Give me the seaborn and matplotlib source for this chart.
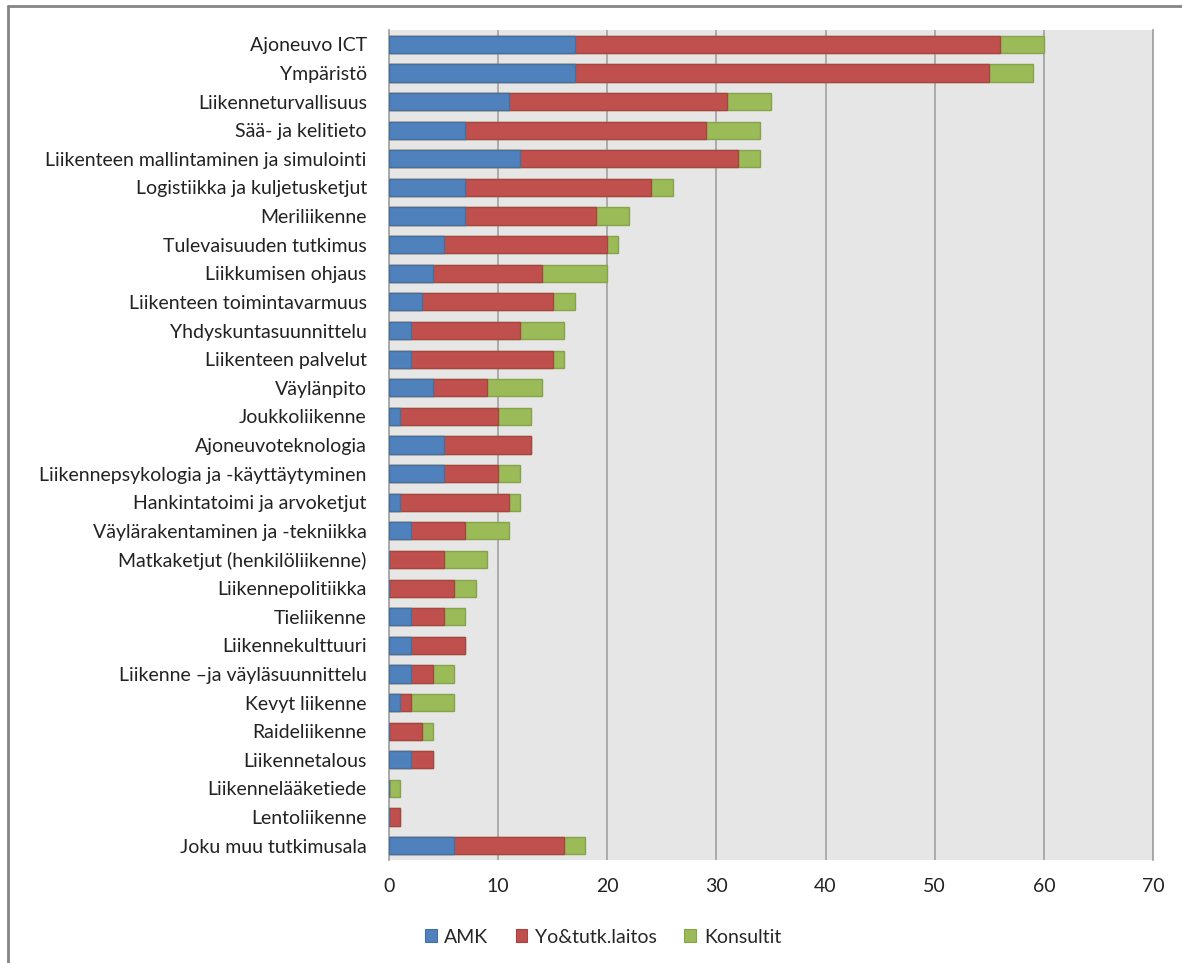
import matplotlib
matplotlib.use("Agg")
import matplotlib.pyplot as plt
from matplotlib.lines import Line2D
from matplotlib.patches import Patch
import numpy as np
import pandas as pd
import seaborn as sns

categories = [
    "Ajoneuvo ICT", "Ympäristö", "Liikenneturvallisuus", "Sää- ja kelitieto",
    "Liikenteen mallintaminen ja simulointi", "Logistiikka ja kuljetusketjut",
    "Meriliikenne", "Tulevaisuuden tutkimus", "Liikkumisen ohjaus",
    "Liikenteen toimintavarmuus", "Yhdyskuntasuunnittelu", "Liikenteen palvelut",
    "Väylänpito", "Joukkoliikenne", "Ajoneuvoteknologia",
    "Liikennepsykologia ja -käyttäytyminen", "Hankintatoimi ja arvoketjut",
    "Väylärakentaminen ja -tekniikka", "Matkaketjut (henkilöliikenne)",
    "Liikennepolitiikka", "Tieliikenne", "Liikennekulttuuri",
    "Liikenne –ja väyläsuunnittelu", "Kevyt liikenne", "Raideliikenne",
    "Liikennetalous", "Liikennelääketiede", "Lentoliikenne", "Joku muu tutkimusala",
]
amk = [17, 17, 11, 7, 12, 7, 7, 5, 4, 3, 2, 2, 4, 1, 5, 5, 1, 2, 0, 0, 2, 2, 2, 1, 0, 2, 0, 0, 6]
yo = [39, 38, 20, 22, 20, 17, 12, 15, 10, 12, 10, 13, 5, 9, 8, 5, 10, 5, 5, 6, 3, 5, 2, 1, 3, 2, 0, 1, 10]
konsultit = [4, 4, 4, 5, 2, 2, 3, 1, 6, 2, 4, 1, 5, 3, 0, 2, 1, 4, 4, 2, 2, 0, 2, 4, 1, 0, 1, 0, 2]
series_names = ["AMK", "Yo&tutk.laitos", "Konsultit"]
x_ticks = [0, 10, 20, 30, 40, 50, 60, 70]

df = pd.DataFrame({"ala": categories, "AMK": amk, "Yo": yo, "Kons": konsultit})
df["c1"] = df["AMK"]
df["c2"] = df["AMK"] + df["Yo"]
df["c3"] = df["c2"] + df["Kons"]

fill = ["#4F81BD", "#C0504D", "#9BBB59"]
edge = ["#44709F", "#A84441", "#86A34B"]

sns.set_theme(style="white")
plt.rcParams["font.family"] = ["Lato", "DejaVu Sans"]
fs = 14

fig = plt.figure(figsize=(11.82, 9.63), dpi=100)
ax = fig.add_axes([389 / 1182, 1 - 860 / 963, (1153 - 389) / 1182, (860 - 30) / 963])
ax.set_facecolor("#E6E6E6")

# stacked bars drawn as cumulative totals, back to front
for col, fc, ec in [("c3", fill[2], edge[2]), ("c2", fill[1], edge[1]), ("c1", fill[0], edge[0])]:
    sns.barplot(data=df, x=col, y="ala", order=categories, orient="h",
                color=fc, saturation=1, width=0.6, edgecolor=ec, linewidth=1.0,
                ax=ax, zorder=3)

ax.set_xlim(0, 70)
ax.set_xticks(x_ticks)
ax.xaxis.grid(True, color="#A6A6A6", linewidth=1.3, zorder=0)
ax.yaxis.grid(False)
ax.set_axisbelow(True)
for s in ["top", "bottom"]:
    ax.spines[s].set_visible(False)
ax.spines["left"].set_color("#A6A6A6")
ax.spines["left"].set_linewidth(1.3)
ax.spines["right"].set_color("#A6A6A6")
ax.spines["right"].set_linewidth(1.3)
ax.set_xlabel("")
ax.set_ylabel("")
ax.tick_params(axis="y", length=0, pad=16, labelsize=fs, labelcolor="#222222")
ax.tick_params(axis="x", length=0, pad=13, labelsize=fs, labelcolor="#222222")

handles = [Patch(facecolor=fill[i], edgecolor=edge[i], linewidth=0.8) for i in range(3)]
fig.legend(handles, series_names, loc="center", bbox_to_anchor=(603 / 1182, 1 - 937 / 963),
           ncol=3, frameon=False, fontsize=fs, handlelength=0.6, handleheight=0.6,
           handletextpad=0.4, columnspacing=1.4)

# chart-area frame (left and top edges)
fig.add_artist(Line2D([8 / 1182, 8 / 1182], [0, 1 - 6 / 963], transform=fig.transFigure,
                      color="#858585", linewidth=2))
fig.add_artist(Line2D([8 / 1182, 1], [1 - 6 / 963, 1 - 6 / 963], transform=fig.transFigure,
                      color="#858585", linewidth=2))

fig.savefig("out.png", dpi=100)
